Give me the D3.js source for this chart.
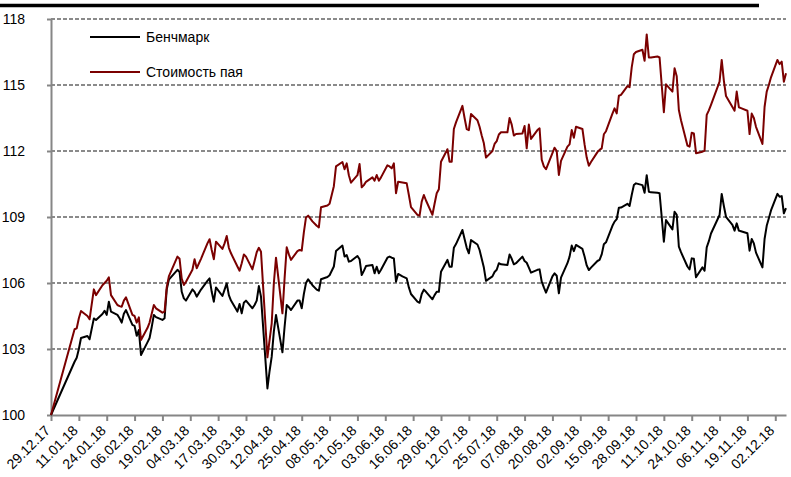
<!DOCTYPE html>
<meta charset="utf-8">
<title>Бенчмарк и стоимость пая</title>
<style>
body { margin: 0; background: #fff; }
svg { display: block; font-family: "Liberation Sans", Arial, sans-serif; }
.grid line { stroke: #8a8a8a; stroke-width: 2; stroke-dasharray: 4,2; }
.axis path, .axis line { stroke: #868686; stroke-width: 2; }
.axis text { fill: #000; }
</style>
<svg width="791" height="477"></svg>
<script src="https://d3js.org/d3.v7.min.js"></script>
<script>

// dates of the points (dd.mm.yy)
var dates = ["29.12.17","09.01.18","10.01.18","11.01.18","12.01.18","15.01.18","16.01.18","18.01.18","19.01.18",
  "22.01.18","23.01.18","24.01.18","25.01.18","26.01.18","29.01.18","30.01.18","31.01.18","01.02.18","02.02.18",
  "05.02.18","06.02.18","07.02.18","08.02.18","09.02.18","12.02.18","13.02.18","14.02.18","15.02.18","16.02.18",
  "19.02.18","20.02.18","21.02.18","22.02.18","26.02.18","27.02.18","28.02.18","01.03.18","02.03.18",
  "05.03.18","06.03.18","07.03.18","09.03.18","12.03.18","13.03.18","14.03.18","15.03.18","16.03.18",
  "19.03.18","20.03.18","21.03.18","22.03.18","23.03.18","26.03.18","27.03.18","28.03.18","29.03.18","30.03.18",
  "02.04.18","03.04.18","04.04.18","05.04.18","06.04.18","09.04.18","10.04.18","11.04.18","12.04.18","13.04.18",
  "16.04.18","17.04.18","18.04.18","19.04.18","20.04.18","23.04.18","24.04.18","25.04.18","26.04.18","27.04.18",
  "28.04.18","30.04.18","02.05.18","03.05.18","04.05.18","07.05.18","08.05.18","10.05.18","11.05.18",
  "14.05.18","15.05.18","16.05.18","17.05.18","18.05.18","21.05.18","22.05.18","23.05.18","24.05.18","25.05.18",
  "28.05.18","29.05.18","30.05.18","31.05.18","01.06.18","04.06.18","05.06.18","06.06.18","07.06.18","08.06.18",
  "09.06.18","11.06.18","13.06.18","14.06.18","15.06.18","18.06.18","19.06.18","20.06.18","21.06.18","22.06.18",
  "25.06.18","26.06.18","27.06.18","28.06.18","29.06.18","02.07.18","03.07.18","04.07.18","05.07.18","06.07.18",
  "09.07.18","10.07.18","11.07.18","12.07.18","13.07.18","16.07.18","17.07.18","18.07.18","19.07.18","20.07.18",
  "23.07.18","24.07.18","25.07.18","26.07.18","27.07.18","30.07.18","31.07.18","01.08.18","02.08.18","03.08.18",
  "06.08.18","07.08.18","08.08.18","09.08.18","10.08.18","13.08.18","14.08.18","15.08.18","16.08.18","17.08.18",
  "20.08.18","21.08.18","22.08.18","23.08.18","24.08.18","27.08.18","28.08.18","29.08.18","30.08.18","31.08.18",
  "03.09.18","04.09.18","05.09.18","06.09.18","07.09.18","10.09.18","11.09.18","12.09.18","13.09.18","14.09.18",
  "17.09.18","18.09.18","19.09.18","20.09.18","21.09.18","24.09.18","25.09.18","26.09.18","27.09.18","28.09.18",
  "01.10.18","02.10.18","03.10.18","04.10.18","05.10.18","08.10.18","09.10.18","10.10.18","11.10.18","12.10.18",
  "15.10.18","16.10.18","17.10.18","18.10.18","19.10.18","22.10.18","23.10.18","24.10.18","25.10.18","26.10.18",
  "29.10.18","30.10.18","31.10.18","01.11.18","02.11.18","06.11.18","07.11.18","08.11.18","09.11.18",
  "12.11.18","13.11.18","14.11.18","15.11.18","16.11.18","19.11.18","20.11.18","21.11.18","22.11.18","23.11.18",
  "26.11.18","27.11.18","28.11.18","29.11.18","30.11.18","03.12.18","04.12.18","05.12.18","06.12.18","07.12.18"];

var benchmark = [100,102.42,102.6,103.0,103.5,103.59,103.44,104.39,104.32,
  104.59,104.74,104.55,105.15,104.7,104.55,104.4,104.2,104.6,104.77,
  104.1,104.05,103.6,103.86,102.73,103.3,103.5,104.0,104.55,104.45,
  104.32,104.4,105.7,106.15,106.6,106.5,105.6,105.3,105.2,
  105.71,105.6,105.38,105.7,106.1,106.21,105.6,105.15,105.8,
  105.41,105.7,105.98,105.45,105.2,104.7,105.05,104.62,105.1,105.2,
  104.85,105.0,105.2,105.86,105.38,101.21,102.0,102.65,103.8,104.55,
  102.85,104.0,105.0,104.9,104.77,105.2,105.2,104.85,105.5,106.0,
  106.17,105.9,105.7,105.65,106.17,106.27,106.35,106.75,107.45,
  107.7,107.2,107.27,106.97,107.0,107.23,107.08,106.36,106.55,106.77,
  106.82,106.44,106.74,106.44,106.6,107.15,107.2,107.15,107.12,106.06,
  106.41,106.3,106.21,105.8,105.5,105.15,105.1,105.5,105.7,105.6,
  105.26,105.45,105.6,105.6,106.51,107.05,106.74,106.74,107.6,107.77,
  108.41,108.0,107.6,107.35,107.95,107.75,107.5,107.1,106.7,106.1,
  106.3,106.5,106.6,106.9,106.85,106.82,107.3,107.1,106.85,106.9,
  107.2,107.0,106.92,106.7,106.47,106.6,106.62,106.06,105.8,105.56,
  106.3,106.44,106.33,105.53,106.24,106.9,107.2,107.7,107.45,107.73,
  107.55,107.2,106.8,106.59,106.7,107.0,107.05,107.3,107.76,107.85,
  108.6,108.79,108.9,109.42,109.43,109.6,109.5,110.0,110.45,110.53,
  110.45,110.1,110.9,110.15,110.12,110.1,110.08,109.0,107.88,108.86,
  108.44,109.24,109.1,107.65,107.4,106.75,106.62,107.12,107.1,106.26,
  106.71,106.56,107.62,107.9,108.25,109.09,110.05,109.5,109.01,
  108.64,108.38,108.71,108.38,108.35,108.26,107.47,108.0,107.8,107.38,
  106.71,108.0,108.6,108.94,109.3,110.05,109.92,109.95,109.17,109.4];

var fundValue = [100,103.9,103.94,104.4,104.73,104.5,104.35,105.71,105.45,
  105.9,106.0,106.1,106.26,105.45,105.0,104.95,104.92,105.2,105.35,
  104.55,104.5,104.2,104.44,103.41,103.95,104.2,104.6,105.0,104.85,
  104.65,104.7,105.8,106.3,107.2,107.1,106.2,105.91,106.06,
  106.6,107.08,106.67,107.1,107.8,107.99,107.5,107.08,107.88,
  107.55,107.8,108.14,107.6,107.35,106.75,106.56,106.9,107.3,107.2,
  106.62,107.0,107.4,107.6,107.42,102.62,103.4,104.17,106.0,107.15,
  104.62,106.2,107.62,107.3,107.05,107.45,107.5,107.47,108.3,108.98,
  109.06,108.8,108.6,108.53,109.44,109.52,109.6,110.4,111.3,
  111.5,111.17,111.44,110.9,110.56,110.9,111.41,110.35,110.45,110.6,
  110.8,110.65,110.91,110.65,110.8,111.35,111.3,111.21,111.44,110.08,
  110.6,110.57,110.53,110.0,109.45,109.1,109.06,109.7,110.0,109.75,
  109.1,109.6,110.08,110.26,111.51,112.08,111.51,111.51,113.0,113.3,
  114.05,113.5,113.0,112.95,113.68,113.4,113.1,112.7,112.35,111.7,
  112.0,112.32,112.45,112.75,112.85,112.85,113.5,113.2,112.7,112.77,
  112.8,113.14,112.12,113.2,112.55,112.95,113.03,111.6,111.3,111.17,
  111.9,112.15,112.0,110.91,111.55,112.2,112.3,112.95,112.6,113.1,
  113.0,112.3,111.7,111.33,111.5,111.95,112.05,112.12,112.76,112.9,
  113.7,113.94,113.71,114.51,114.55,114.95,114.9,115.8,116.4,116.5,
  116.6,116.1,117.3,116.25,116.25,116.3,116.25,115.0,113.76,115.03,
  114.7,115.76,115.4,113.86,113.4,112.25,112.2,112.83,112.8,111.9,
  111.97,112.01,113.64,113.85,114.1,115.15,116.14,115.2,114.5,
  114.0,113.83,114.7,113.99,113.95,113.83,112.77,113.7,113.5,113.1,
  112.32,114.0,114.7,115.0,115.35,116.14,115.95,116.06,115.15,115.53];

var xTickLabels = ["29.12.17","11.01.18","24.01.18","06.02.18","19.02.18","04.03.18","17.03.18","30.03.18",
  "12.04.18","25.04.18","08.05.18","21.05.18","03.06.18","16.06.18","29.06.18","12.07.18","25.07.18",
  "07.08.18","20.08.18","02.09.18","15.09.18","28.09.18","11.10.18","24.10.18","06.11.18","19.11.18","02.12.18"];
var yTicks = [100, 103, 106, 109, 112, 115, 118];

var seriesNames = ["Бенчмарк", "Стоимость пая"];
var seriesColors = ["#000000", "#7b0000"];

var parse = d3.utcParse("%d.%m.%y");
var days = dates.map(parse);

var svg = d3.select("svg");

var x = d3.scaleUtc()
    .domain([days[0], days[days.length - 1]])
    .range([51, 786]);

var y = d3.scaleLinear()
    .domain([100, 118])
    .range([415, 19]);

// top rule
svg.append("line")
    .attr("x1", 0).attr("x2", 759)
    .attr("y1", 5.5).attr("y2", 5.5)
    .style("stroke", "#000").style("stroke-width", 3.5);

// dashed gridlines
svg.append("g").attr("class", "grid")
  .selectAll("line")
  .data(yTicks.slice(1))
  .enter().append("line")
    .attr("x1", 51).attr("x2", 786)
    .attr("y1", function(d) { return y(d); })
    .attr("y2", function(d) { return y(d); });

// y axis
var yAxis = svg.append("g")
    .attr("class", "axis")
    .attr("transform", "translate(51,0)")
    .call(d3.axisLeft(y).tickValues(yTicks).tickSize(4).tickPadding(22).tickSizeOuter(0));
yAxis.selectAll("text").style("font-size", "14px");

// x axis
var xTicks = xTickLabels.map(parse);
var xAxis = svg.append("g")
    .attr("class", "axis")
    .attr("transform", "translate(0,415)")
    .call(d3.axisBottom(x).tickValues(xTicks).tickSize(6).tickSizeOuter(0).tickFormat(function(d, i) { return xTickLabels[i]; }));
xAxis.selectAll("text")
    .style("font-size", "14px")
    .style("text-anchor", "end")
    .attr("y", 0)
    .attr("dy", "0.35em")
    .attr("transform", "translate(-4,13) rotate(-45)");

// lines
var series = [benchmark, fundValue];
var line = d3.line()
    .x(function(d, i) { return x(days[i]); })
    .y(function(d) { return y(d); });

svg.selectAll(".series")
  .data(series)
  .enter().append("path")
    .attr("class", "series")
    .attr("d", line)
    .style("fill", "none")
    .style("stroke", function(d, i) { return seriesColors[i]; })
    .style("stroke-width", 2)
    .style("stroke-linejoin", "round");

// legend
var legend = svg.selectAll(".legend")
  .data(seriesNames)
  .enter().append("g")
    .attr("class", "legend")
    .attr("transform", function(d, i) { return "translate(90," + (37 + i * 35) + ")"; });
legend.append("line")
    .attr("x1", 0).attr("x2", 50)
    .style("stroke", function(d, i) { return seriesColors[i]; })
    .style("stroke-width", 2);
legend.append("text")
    .attr("x", 56)
    .attr("dy", "0.35em")
    .style("font-size", "14px")
    .text(function(d) { return d; });

</script>
